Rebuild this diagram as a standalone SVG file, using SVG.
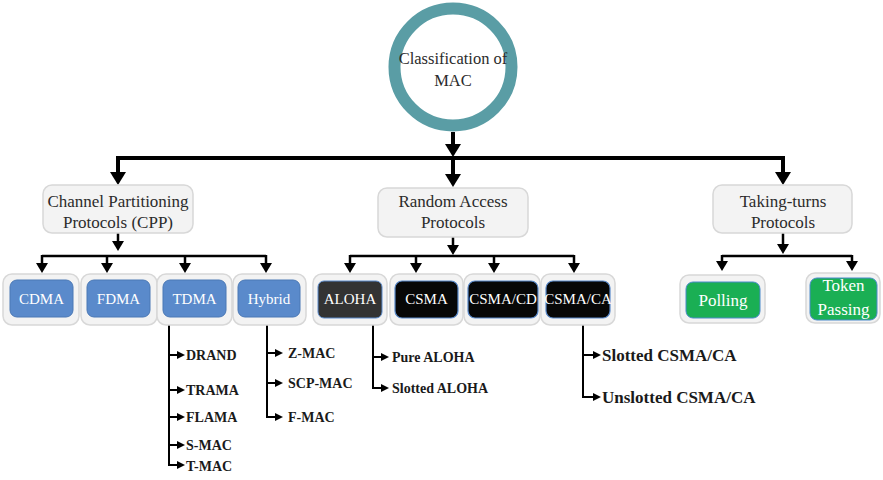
<svg xmlns="http://www.w3.org/2000/svg" width="883" height="480" viewBox="0 0 883 480">
<style>
.t{font-family:"Liberation Serif","Times New Roman",serif;fill:#2b2b2b;text-anchor:middle}
.big{font-size:17px}
.w{font-family:"Liberation Serif","Times New Roman",serif;fill:#fff;text-anchor:middle;font-size:15px}
.g{font-size:17px}
.lst{font-family:"Liberation Serif","Times New Roman",serif;fill:#1a1a1a;font-weight:bold;font-size:14px}
.lst2{font-family:"Liberation Serif","Times New Roman",serif;fill:#1a1a1a;font-weight:bold;font-size:17px}
.card{fill:#F3F3F3;stroke:#D8D8D8;stroke-width:1.5}
.blue{fill:#5A8ACB;stroke:#4A78B5;stroke-width:1}
.dark{fill:#333;stroke:#5A8ACB;stroke-width:1}
.blk{fill:#070707;stroke:#5A8ACB;stroke-width:1.2}
.grn{fill:#1AAF54;stroke:#4A8ACB;stroke-width:1}
.c1{fill:none;stroke:#000;stroke-width:4}
.c2{fill:none;stroke:#000;stroke-width:2.5}
.c3{fill:none;stroke:#000;stroke-width:2}
</style>
<defs>
<marker id="a1" markerUnits="userSpaceOnUse" markerWidth="14" markerHeight="16" refX="6" refY="8" orient="auto"><path d="M0,0 L13,8 L0,16 z" fill="#000"/></marker>
<marker id="a2" markerUnits="userSpaceOnUse" markerWidth="11" markerHeight="12" refX="5" refY="6" orient="auto"><path d="M0,0 L10,6 L0,12 z" fill="#000"/></marker>
<marker id="a3" markerUnits="userSpaceOnUse" markerWidth="8" markerHeight="8" refX="3" refY="4" orient="auto"><path d="M0,0 L8,4 L0,8 z" fill="#000"/></marker>
<clipPath id="tpclip"><rect x="810" y="278" width="67" height="42" rx="7"/></clipPath>
</defs>

<g id="connectors">
<path class="c1" d="M453,132 V150" marker-end="url(#a1)"/>
<path class="c1" d="M118,158 H783"/>
<path class="c1" d="M118,156 V178" marker-end="url(#a1)"/>
<path class="c1" d="M453,156 V180" marker-end="url(#a1)"/>
<path class="c1" d="M783,156 V178" marker-end="url(#a1)"/>

<path class="c2" d="M118,233 V246" marker-end="url(#a2)"/>
<path class="c2" d="M42,256 H266"/>
<path class="c2" d="M42,255 V268" marker-end="url(#a2)"/>
<path class="c2" d="M107,255 V268" marker-end="url(#a2)"/>
<path class="c2" d="M185,255 V268" marker-end="url(#a2)"/>
<path class="c2" d="M266,255 V268" marker-end="url(#a2)"/>

<path class="c2" d="M453,237 V250" marker-end="url(#a2)"/>
<path class="c2" d="M350,256 H574"/>
<path class="c2" d="M350,255 V268" marker-end="url(#a2)"/>
<path class="c2" d="M416,255 V268" marker-end="url(#a2)"/>
<path class="c2" d="M494,255 V268" marker-end="url(#a2)"/>
<path class="c2" d="M574,255 V268" marker-end="url(#a2)"/>

<path class="c2" d="M783,233 V249" marker-end="url(#a2)"/>
<path class="c2" d="M722,256 H852"/>
<path class="c2" d="M722,255 V266" marker-end="url(#a2)"/>
<path class="c2" d="M852,255 V266" marker-end="url(#a2)"/>

<path class="c3" d="M169,325 V465 H180" marker-end="url(#a3)"/>
<path class="c3" d="M169,355 H180" marker-end="url(#a3)"/>
<path class="c3" d="M169,390 H180" marker-end="url(#a3)"/>
<path class="c3" d="M169,417 H180" marker-end="url(#a3)"/>
<path class="c3" d="M169,445 H180" marker-end="url(#a3)"/>

<path class="c3" d="M267,325 V417 H278" marker-end="url(#a3)"/>
<path class="c3" d="M267,353 H278" marker-end="url(#a3)"/>
<path class="c3" d="M267,383 H278" marker-end="url(#a3)"/>

<path class="c3" d="M373,325 V388 H384" marker-end="url(#a3)"/>
<path class="c3" d="M373,357 H384" marker-end="url(#a3)"/>

<path class="c3" d="M583,325 V397 H596" marker-end="url(#a3)"/>
<path class="c3" d="M583,355 H596" marker-end="url(#a3)"/>
</g>

<g id="root">
<circle cx="453" cy="67" r="58.5" fill="#fff" stroke="#5A9DA5" stroke-width="12"/>
<text class="t" x="453" y="64" font-size="16.5">Classification of</text>
<text class="t" x="453" y="86" font-size="16.5">MAC</text>
</g>

<g id="cpp">
<rect class="card" x="43" y="185" width="150" height="48" rx="9"/>
<text class="t big" x="118" y="207">Channel Partitioning</text>
<text class="t big" x="118" y="228">Protocols (CPP)</text>
</g>
<g id="rap">
<rect class="card" x="378" y="188" width="150" height="49" rx="9"/>
<text class="t big" x="453" y="207">Random Access</text>
<text class="t big" x="453" y="228">Protocols</text>
</g>
<g id="ttp">
<rect class="card" x="713" y="185" width="139" height="48" rx="9"/>
<text class="t big" x="783" y="207">Taking-turns</text>
<text class="t big" x="783" y="228">Protocols</text>
</g>

<g id="cdma">
<rect class="card" x="3" y="274" width="76" height="51" rx="9"/>
<rect class="blue" x="10" y="280" width="63" height="37" rx="7"/>
<text class="w" x="41.5" y="304">CDMA</text>
</g>
<g id="fdma">
<rect class="card" x="81" y="274" width="76" height="51" rx="9"/>
<rect class="blue" x="87" y="280" width="63" height="37" rx="7"/>
<text class="w" x="118.5" y="304">FDMA</text>
</g>
<g id="tdma">
<rect class="card" x="157" y="274" width="75" height="51" rx="9"/>
<rect class="blue" x="163" y="280" width="63" height="37" rx="7"/>
<text class="w" x="194.5" y="304">TDMA</text>
</g>
<g id="hybrid">
<rect class="card" x="233" y="274" width="73" height="51" rx="9"/>
<rect class="blue" x="238" y="280" width="62" height="37" rx="7"/>
<text class="w" x="269" y="304">Hybrid</text>
</g>

<g id="aloha">
<rect class="card" x="313" y="274" width="74" height="51" rx="9"/>
<rect class="dark" x="318" y="281" width="64" height="37" rx="6"/>
<text class="w" x="350" y="304" fill="#eee">ALOHA</text>
</g>
<g id="csma">
<rect class="card" x="390" y="274" width="73" height="51" rx="9"/>
<rect class="blk" x="395" y="281" width="63" height="37" rx="7"/>
<text class="w" x="426.5" y="304">CSMA</text>
</g>
<g id="csmacd">
<rect class="card" x="464" y="274" width="76" height="51" rx="9"/>
<rect class="blk" x="468" y="281" width="70" height="37" rx="7"/>
<text class="w" x="503" y="304">CSMA/CD</text>
</g>
<g id="csmaca">
<rect class="card" x="541" y="274" width="74" height="51" rx="9"/>
<rect class="blk" x="546" y="281" width="64" height="37" rx="7"/>
<text class="w" x="578" y="304">CSMA/CA</text>
</g>

<g id="polling">
<rect class="card" x="680" y="275" width="85" height="48" rx="9"/>
<rect class="grn" x="686" y="282" width="74" height="36" rx="7"/>
<text class="w g" x="723" y="306">Polling</text>
</g>
<g id="token">
<rect class="card" x="806" y="273" width="74" height="50" rx="9"/>
<rect class="grn" x="810" y="278" width="67" height="42" rx="7"/>
<g clip-path="url(#tpclip)">
<text class="w g" x="843.5" y="291">Token</text>
<text class="w g" x="843.5" y="315">Passing</text>
</g>
</g>

<g id="tdma-list">
<text class="lst" x="186" y="360">DRAND</text>
<text class="lst" x="186" y="395">TRAMA</text>
<text class="lst" x="186" y="422">FLAMA</text>
<text class="lst" x="186" y="450">S-MAC</text>
<text class="lst" x="186" y="471">T-MAC</text>
</g>
<g id="hybrid-list">
<text class="lst" x="288" y="358">Z-MAC</text>
<text class="lst" x="288" y="388">SCP-MAC</text>
<text class="lst" x="288" y="422">F-MAC</text>
</g>
<g id="aloha-list">
<text class="lst" x="392" y="362">Pure ALOHA</text>
<text class="lst" x="392" y="393">Slotted ALOHA</text>
</g>
<g id="csmaca-list">
<text class="lst2" x="602" y="361">Slotted CSMA/CA</text>
<text class="lst2" x="602" y="403">Unslotted CSMA/CA</text>
</g>
</svg>
